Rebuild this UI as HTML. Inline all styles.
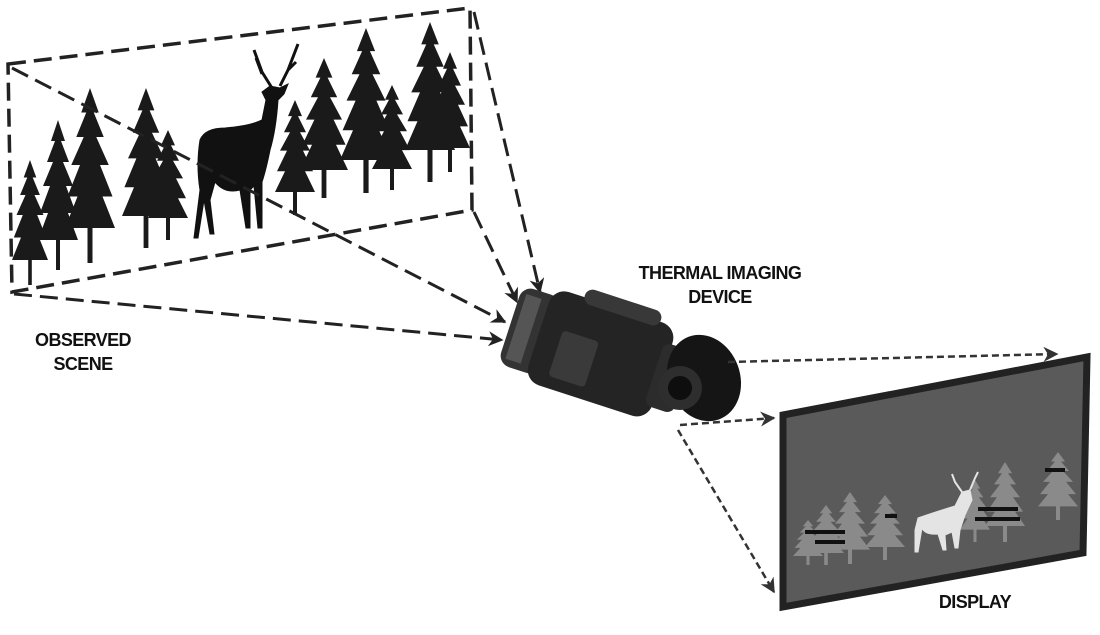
<!DOCTYPE html>
<html><head><meta charset="utf-8"><style>
html,body{margin:0;padding:0;background:#fff;width:1100px;height:635px;overflow:hidden}
.l{position:absolute;font-family:"Liberation Sans Narrow","Liberation Sans",sans-serif;font-weight:bold;font-size:18px;color:#111;text-align:center;letter-spacing:-0.6px;line-height:24px}
</style></head><body>
<svg width="1100" height="635" style="position:absolute;left:0;top:0">
<defs>
<symbol id="tree" viewBox="0 0 40 100" preserveAspectRatio="none">
<polygon points="20,0 27,14 23,14 31,28 25,28 35,44 28,44 38,62 30,62 40,80 22,80 22,100 18,100 18,80 0,80 10,62 2,62 12,44 5,44 15,28 9,28 17,14 13,14"/>
</symbol>
<marker id="ah" viewBox="0 0 10 10" refX="9" refY="5" markerWidth="5" markerHeight="5" orient="auto"><path d="M0,0L10,5L0,10L3,5z" fill="#222"/></marker>
<marker id="ah2" viewBox="0 0 10 10" refX="9" refY="5" markerWidth="6" markerHeight="6" orient="auto"><path d="M0,0L10,5L0,10L3,5z" fill="#333"/></marker>
</defs>
<g fill="#1a1a1a">
<use href="#tree" x="12" y="160" width="36" height="125"/>
<use href="#tree" x="38" y="120" width="40" height="150"/>
<use href="#tree" x="65" y="88" width="50" height="175"/>
<use href="#tree" x="122" y="88" width="48" height="160"/>
<use href="#tree" x="148" y="130" width="40" height="110"/>
<use href="#tree" x="275" y="100" width="40" height="115"/>
<use href="#tree" x="300" y="58" width="48" height="140"/>
<use href="#tree" x="340" y="28" width="52" height="165"/>
<use href="#tree" x="372" y="85" width="40" height="105"/>
<use href="#tree" x="405" y="22" width="50" height="160"/>
<use href="#tree" x="430" y="52" width="40" height="120"/>
</g>
<!-- deer -->
<g fill="#111" stroke="#111">
<path d="M200,140 Q205,128 225,128 Q250,126 262,120 L266,100 L262,92 L270,86 L280,88 L288,84 L284,94 L278,100 Q276,130 270,150 Q266,170 262,182 L262,228 L258,228 L254,186 L250,190 L250,228 L246,228 L240,190 Q225,194 215,182 L210,200 L214,234 L210,234 L204,200 L198,238 L194,238 L200,190 Q196,165 200,140Z"/>
<path d="M272,88 L262,72 L254,50 M262,74 L256,58 M280,86 L288,70 L298,44 M288,70 L296,62" fill="none" stroke-width="3"/>
</g>
<g fill="none" stroke="#222" stroke-width="3.5" stroke-dasharray="18,8">
<path d="M8,64 L470,8 L472,210 L12,292 Z"/>
</g>
<g fill="none" stroke="#222" stroke-width="3" stroke-dasharray="18,8" marker-end="url(#ah)">
<path d="M12,68 L505,322"/>
<path d="M474,12 L540,292"/>
<path d="M474,212 L517,302"/>
<path d="M14,294 L502,340"/>
</g>
<!-- device -->
<g transform="translate(598,352) rotate(18)">
<rect x="-92" y="-40" width="42" height="82" rx="12" fill="#333"/>
<rect x="-86" y="-33" width="16" height="68" fill="#555"/>
<rect x="-62" y="-48" width="130" height="98" rx="16" fill="#242424"/>
<rect x="-40" y="-10" width="38" height="48" rx="4" fill="#3a3a3a"/>
<rect x="-30" y="-58" width="80" height="16" rx="8" fill="#383838"/>
<rect x="60" y="-30" width="30" height="66" rx="8" fill="#2c2c2c"/>
</g>
<ellipse cx="704" cy="378" rx="36" ry="44" transform="rotate(-20 704 378)" fill="#151515"/>
<circle cx="680" cy="388" r="22" fill="#2e2e2e"/>
<circle cx="680" cy="388" r="12" fill="#0e0e0e"/>
<g fill="none" stroke="#333" stroke-width="2.5" stroke-dasharray="7,4" marker-end="url(#ah2)">
<path d="M728,362 L1057,354"/>
<path d="M680,425 L774,418"/>
<path d="M678,430 L774,592"/>
</g>
<path d="M783,415 L1087,357 L1083,553 L783,607 Z" fill="#5a5a5a" stroke="#222" stroke-width="7"/>
<g fill="#8a8a8a">
<use href="#tree" x="793" y="520" width="30" height="45"/>
<use href="#tree" x="808" y="505" width="36" height="60"/>
<use href="#tree" x="830" y="492" width="40" height="72"/>
<use href="#tree" x="865" y="495" width="40" height="65"/>
<use href="#tree" x="960" y="480" width="30" height="62"/>
<use href="#tree" x="985" y="462" width="40" height="80"/>
<use href="#tree" x="1038" y="452" width="40" height="68"/>
</g>
<g fill="#111">
<rect x="805" y="530" width="40" height="4"/><rect x="815" y="540" width="30" height="4"/>
<rect x="885" y="514" width="12" height="4"/><rect x="978" y="507" width="40" height="4"/><rect x="975" y="517" width="45" height="4"/><rect x="1045" y="468" width="20" height="4"/>
</g>
<g fill="#e4e4e4" stroke="#e4e4e4">
<path d="M918,518 Q935,512 955,506 L962,492 L970,490 L972,500 L965,515 L960,530 L958,548 L955,548 L952,532 L945,535 L946,550 L943,550 L938,534 Q925,535 922,528 L918,552 L915,552 L915,530 Z"/>
<path d="M962,492 L955,482 L952,474 M970,490 L975,478 L978,472" fill="none" stroke-width="2"/>
</g>
</svg>
<div class="l" style="left:18px;top:328px;width:130px">OBSERVED<br>SCENE</div>
<div class="l" style="left:615px;top:261px;width:210px">THERMAL IMAGING<br>DEVICE</div>
<div class="l" style="left:920px;top:590px;width:110px">DISPLAY</div>
</body></html>
